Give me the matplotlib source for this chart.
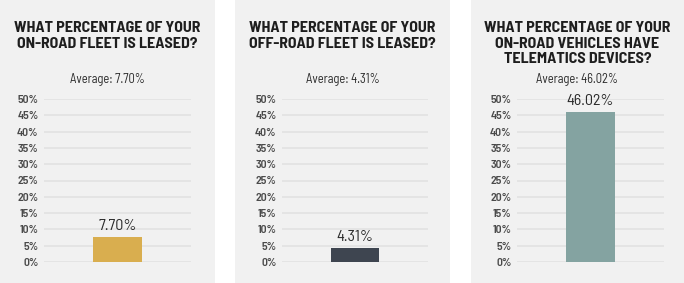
import matplotlib
matplotlib.use("Agg")
import matplotlib.pyplot as plt
from matplotlib.patches import Rectangle

# ---- data ----
titles = [
    "WHAT PERCENTAGE OF YOUR\nON-ROAD FLEET IS LEASED?",
    "WHAT PERCENTAGE OF YOUR\nOFF-ROAD FLEET IS LEASED?",
    "WHAT PERCENTAGE OF YOUR\nON-ROAD VEHICLES HAVE\nTELEMATICS DEVICES?",
]
values = [7.70, 4.31, 46.02]
yticks = [0, 5, 10, 15, 20, 25, 30, 35, 40, 45, 50]
ytick_labels = [f"{t}%" for t in yticks]
bar_colors = ["#D9AE4F", "#3E4550", "#84A3A1"]

FONT = "Barlow Semi Condensed"
W, H = 684, 283
fig = plt.figure(figsize=(W / 100, H / 100), dpi=100)
fig.patch.set_facecolor("white")

panels = [(0, 215), (235, 450), (471, 684)]
axes_x = [(44, 191), (282, 428), (517, 664)]
y0_px, y50_px = 262, 99

for i in range(3):
    px0, px1 = panels[i]
    fig.patches.append(Rectangle((px0 / W, 0), (px1 - px0) / W, 1,
                                 transform=fig.transFigure, facecolor="#F1F1F1",
                                 edgecolor="none", zorder=-5))
    cx = (px0 + px1) / 2 / W
    fig.text(cx, 1 - 21 / H, titles[i], ha="center", va="top", fontsize=11.5,
             fontweight="bold", family=FONT, color="#1E1E1E", linespacing=1.15)
    fig.text(cx, 1 - 79 / H, f"Average: {values[i]:.2f}%", ha="center", va="center",
             fontsize=9, family=FONT, color="#2A2A2A")

    ax0, ax1 = axes_x[i]
    ax = fig.add_axes([ax0 / W, (H - y0_px) / H, (ax1 - ax0) / W, (y0_px - y50_px) / H])
    ax.set_zorder(2)
    ax.patch.set_alpha(0)
    ax.set_xlim(-1, 1)
    ax.set_ylim(0, 50)
    ax.bar([0], [values[i]], width=0.667, color=bar_colors[i], zorder=3)
    ax.set_yticks(yticks)
    ax.set_yticklabels(ytick_labels, family=FONT, fontsize=8.5, fontweight=600,
                       color="#4A4A4A")
    ax.tick_params(axis="y", length=0, pad=4)
    ax.set_xticks([])
    for s in ax.spines.values():
        s.set_visible(False)
    ax.grid(axis="y", color="#E2E2E2", linewidth=1.2, zorder=0)
    ax.set_axisbelow(True)
    ax.annotate(f"{values[i]:.2f}%", xy=(0, values[i]), xytext=(0, 3),
                textcoords="offset points", ha="center", va="bottom",
                fontsize=11.5, family=FONT, color="#2A2A2A")

fig.savefig("out.png", dpi=100)
